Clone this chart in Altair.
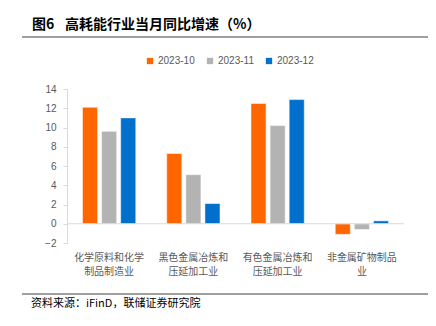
import altair as alt
import pandas as pd

categories = ["化学原料和化学\n制品制造业", "黑色金属冶炼和\n压延加工业", "有色金属冶炼和\n压延加工业", "非金属矿物制品\n业"]
series = ["2023-10", "2023-11", "2023-12"]
v_2023_10 = [12.1, 7.3, 12.5, -1.1]
v_2023_11 = [9.6, 5.1, 10.2, -0.6]
v_2023_12 = [11.0, 2.1, 12.9, 0.3]
colors = ["#FF6600", "#B3B3B3", "#0070CC"]
y_ticks = [-2, 0, 2, 4, 6, 8, 10, 12, 14]

title_fig = "图6"
title_main = "高耗能行业当月同比增速（%）"
source = "资料来源：iFinD，联储证券研究院"

rows = []
for s, vals in zip(series, [v_2023_10, v_2023_11, v_2023_12]):
    for c, v in zip(categories, vals):
        rows.append({"cat": c, "series": s, "value": v})
df = pd.DataFrame(rows)

W, H = 337, 154
CJK = "Noto Sans CJK SC"

yaxis = alt.Axis(values=y_ticks, tickCount=9, grid=False, domainColor="#D9D9D9",
                 tickColor="#D9D9D9", tickSize=4, labelPadding=7,
                 labelOverlap=False, labelFlush=False,
                 labelFont="Liberation Sans", labelFontSize=10,
                 labelColor="#595959")

bars = alt.Chart(df).mark_bar(stroke="white", strokeWidth=0.5).encode(
    x=alt.X("cat:N", sort=categories, title=None,
            scale=alt.Scale(paddingInner=0.32, paddingOuter=0.16),
            axis=alt.Axis(domain=False, ticks=False, labelAngle=0,
                          labelExpr="split(datum.label, '\\n')",
                          labelFont=CJK, labelFontSize=10, labelColor="#595959",
                          labelPadding=9, labelLineHeight=14)),
    xOffset=alt.XOffset("series:N", sort=series,
                        scale=alt.Scale(paddingInner=0.21, paddingOuter=0.105)),
    y=alt.Y("value:Q", title=None,
            scale=alt.Scale(domain=[-2, 14], nice=False, zero=False),
            axis=yaxis),
    color=alt.Color("series:N", sort=series,
                    scale=alt.Scale(domain=series, range=colors),
                    legend=alt.Legend(title=None, orient="none", direction="horizontal",
                                      legendX=78, legendY=-33, symbolType="square",
                                      symbolSize=40, symbolStrokeWidth=0,
                                      labelFont="Liberation Sans", labelFontSize=10,
                                      labelColor="#595959", columnPadding=10,
                                      labelOffset=3)),
)

zero = alt.Chart(pd.DataFrame({"z": [0]})).mark_rule(color="#D9D9D9", strokeWidth=1).encode(
    y=alt.datum(0), x=alt.value(0), x2=alt.value(W)
)

one = pd.DataFrame({"t": [0]})
t1 = alt.Chart(pd.DataFrame({"t": [title_fig]})).mark_text(
    font=CJK, fontSize=14, fontWeight="bold", align="left", baseline="middle", color="#000000"
).encode(text="t:N", x=alt.value(32 - 67), y=alt.value(25 - 89))
t2 = alt.Chart(pd.DataFrame({"t": [title_main]})).mark_text(
    font=CJK, fontSize=14, fontWeight="bold", align="left", baseline="middle", color="#000000"
).encode(text="t:N", x=alt.value(65 - 67), y=alt.value(25 - 89))
line_top = alt.Chart(one).mark_rule(color="#404040", strokeWidth=1.2).encode(
    x=alt.value(22 - 67), x2=alt.value(428 - 67), y=alt.value(37 - 89))
line_bot = alt.Chart(one).mark_rule(color="#404040", strokeWidth=1).encode(
    x=alt.value(22 - 67), x2=alt.value(428 - 67), y=alt.value(294 - 89))
t3 = alt.Chart(pd.DataFrame({"t": [source]})).mark_text(
    font=CJK, fontSize=11, align="left", baseline="middle", color="#000000"
).encode(text="t:N", x=alt.value(31 - 67), y=alt.value(304 - 89))

chart = alt.layer(bars, zero, t1, t2, line_top, line_bot, t3).properties(
    width=W, height=H,
    autosize=alt.AutoSizeParams(type="none"),
    padding={"left": 67, "top": 89, "right": 32, "bottom": 83},
    background="white",
).configure_view(stroke=None)

chart.save("out.html", embed_options={"renderer": "svg", "actions": False})
